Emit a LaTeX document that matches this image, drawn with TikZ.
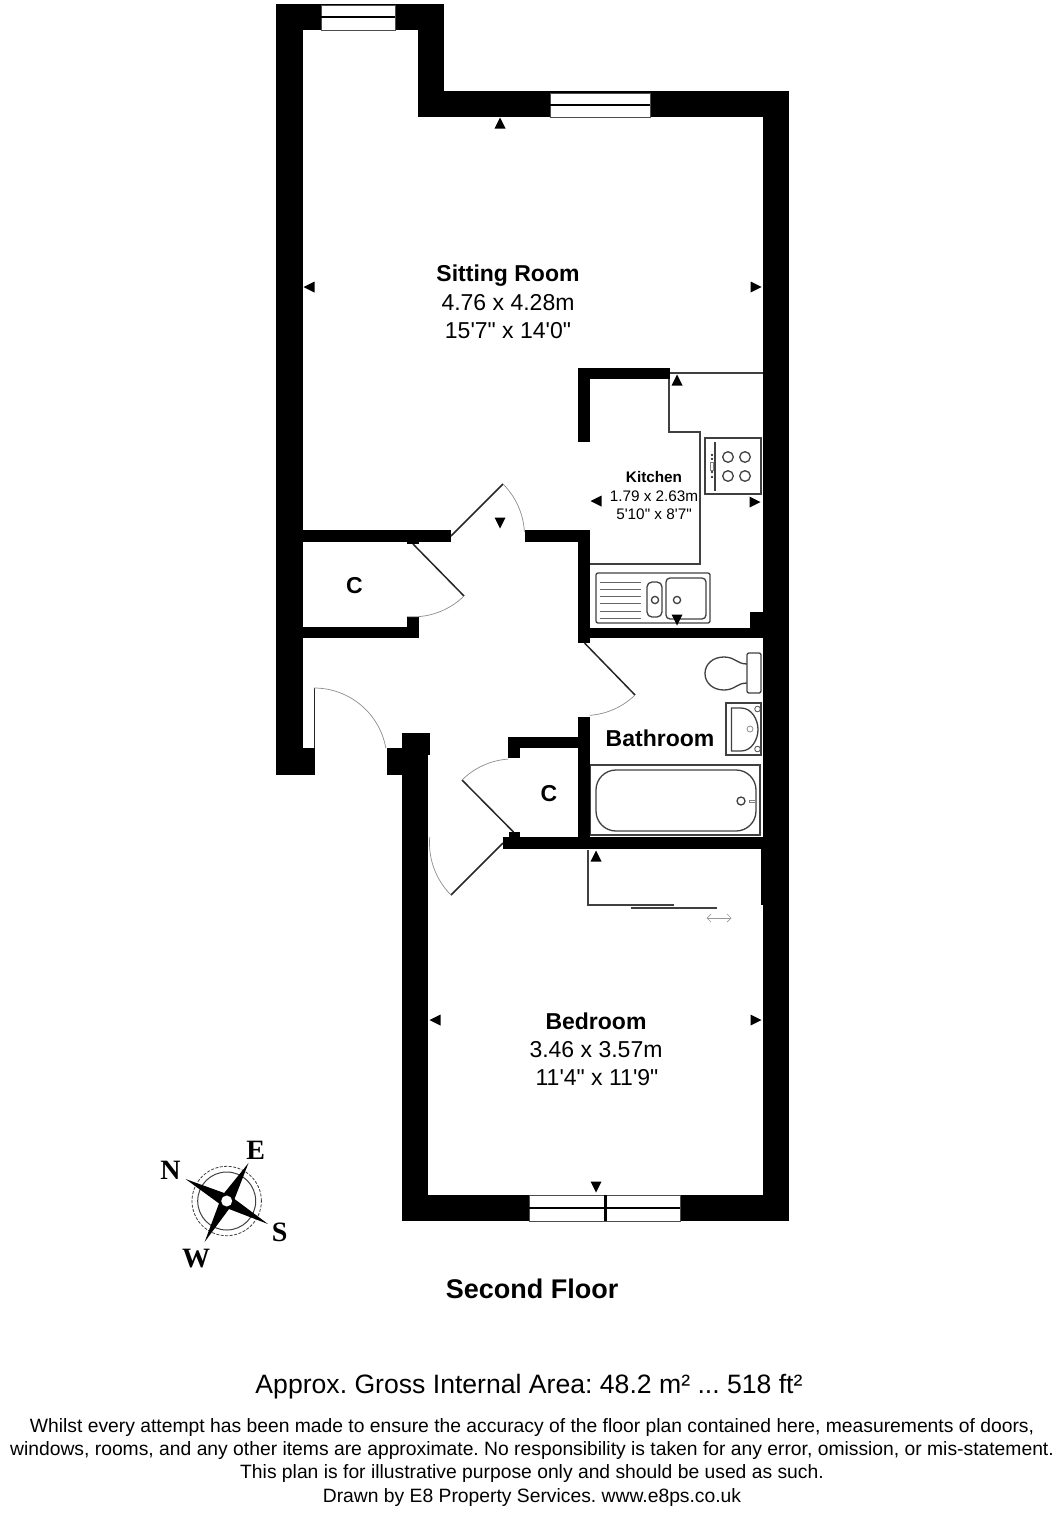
\documentclass[tikz,border=0pt]{standalone}
\usepackage{fontspec}
\newfontfamily\planfont{Liberation Sans}
\newfontfamily\compassfont{Liberation Serif}
\frenchspacing
\tikzset{
    wall/.style={fill=black},
    pane/.style={fill=white,draw=black!70,line width=0.6pt},
    leaf/.style={draw=black!85,line width=1.5pt},
    swing/.style={draw=black!45,line width=0.7pt},
    fitting/.style={draw=black!75,line width=1.3pt},
    roomtitle/.style={font=\planfont\bfseries\fontsize{23}{23}\selectfont,inner sep=0pt},
    roomsize/.style={font=\planfont\fontsize{23}{23}\selectfont,inner sep=0pt},
    kitchentitle/.style={font=\planfont\bfseries\fontsize{15.3}{15.3}\selectfont,inner sep=0pt},
    kitchensize/.style={font=\planfont\fontsize{15.3}{15.3}\selectfont,inner sep=0pt},
    finetext/.style={font=\planfont\fontsize{19.3}{19.3}\selectfont,inner sep=0pt},
    compassletter/.style={font=\compassfont\bfseries\fontsize{28}{28}\selectfont,inner sep=0pt},
}
\begin{document}
\begin{tikzpicture}[x=1pt,y=-1pt]
    \useasboundingbox (0,0) rectangle (1064,1528);

    % Walls
    \foreach \xa/\ya/\xb/\yb in {
        276/4/444/30, 276/4/303/775, 276/748/315/775, 418/4/444/117, 418/91/789/117,
        763/91/789/1221, 402/1195/789/1221, 402/733/428/1221, 404/733/430/755,
        387/748/404/775, 761/849/763/905,
        303/530/451/542, 407/542/419/544, 525/530/589.6/542,
        303/627/419/638, 407/617/419/627,
        578/368/670/379, 578/368/589.6/442, 578/530/589.6/643,
        589/628/763/638, 749.5/612/763/628,
        578/717/589.6/849, 508/737/578/748, 508/737/520/758,
        503/837/763/849, 508.5/832/519.6/837}
        \fill[wall] (\xa,\ya) rectangle (\xb,\yb);

    % Windows
    \foreach \xa/\ya/\xb/\ym/\yb in {321/5/395/17/30, 550/93/650/105/117, 529/1195/680/1208/1221} {
        \draw[pane] (\xa,\ya) rectangle (\xb,\yb);
        \draw[line width=1.2pt] (\xa,\ym) -- (\xb,\ym);
    }
    \draw[line width=3pt] (605,1195) -- (605,1221);

    % Doors
    \draw[leaf] (451,536) -- (503,484);
    \draw[swing] (503,484) arc[start angle=45,end angle=3,radius=73.5pt];
    \draw[leaf] (413,544) -- (464,596);
    \draw[swing] (464,596) arc[start angle=-45.6,end angle=-94.6,radius=73pt];
    \draw[leaf] (584.5,643) -- (635,695);
    \draw[swing] (635,695) arc[start angle=-45.8,end angle=-86,radius=72.5pt];
    \draw[leaf] (513.5,832) -- (462,780);
    \draw[swing] (462,780) arc[start angle=134.7,end angle=93.9,radius=73pt];
    \draw[leaf] (503,843) -- (451,895);
    \draw[swing] (451,895) arc[start angle=225,end angle=175.4,radius=73.5pt];
    \draw[leaf,line width=1pt] (314,688) -- (314,748);
    \draw[swing] (314,688) arc[start angle=90,end angle=10,radius=73pt];

    % Kitchen
    \draw[fitting] (670,373) -- (763,373);
    \draw[fitting] (669,379) -- (669,432) -- (700,432) -- (700,564) -- (589.6,564);
    \draw[fitting] (705,438) rectangle (761,494);
    \draw[fitting] (715,442) -- (715,491);
    \foreach \ydot in {455,459,472,477}
        \fill (712,\ydot) circle (1.2pt);
    \draw[black!50,line width=0.5pt] (710.5,462) rectangle (713.5,470);
    \foreach \xring in {728,745}
        \foreach \yring in {457,476}
            \draw[fitting] (\xring,\yring) circle (5.3pt);
    \draw[fitting,rounded corners=2pt] (596,573) rectangle (710,623);
    \draw[fitting,rounded corners=5pt] (647,582) rectangle (662,617);
    \draw[fitting,rounded corners=4pt] (666,578) rectangle (706,619);
    \foreach \xring in {655,677}
        \draw[fitting] (\xring,600) circle (3.6pt);
    \foreach \ydrain in {582,589,596,603,611,618}
        \draw[black!60,line width=0.8pt] (600,\ydrain) -- (641,\ydrain);

    % Bathroom
    \draw[fitting,rounded corners=2pt] (747,653) rectangle (761,693);
    \draw[fitting] (747,664) .. controls (737,664) and (735,657) .. (724,657)
        .. controls (713,657) and (705,664) .. (705,673.5)
        .. controls (705,683) and (713,690) .. (724,690)
        .. controls (735,690) and (737,683) .. (747,683);
    \draw[fitting] (726,703) rectangle (761,755);
    \draw[fitting] (731.5,708) -- (741,708) .. controls (752,708) and (758,720) .. (758,729.5)
        .. controls (758,739) and (752,751) .. (741,751) -- (731.5,751) -- cycle;
    \draw[black!70,line width=0.8pt] (757.5,709) circle (2.8pt);
    \draw[black!70,line width=0.8pt] (757.5,749) circle (2.8pt);
    \draw[black!45,line width=0.8pt] (750,729) circle (3pt);
    \draw[fitting] (590.6,765) rectangle (760,835);
    \draw[fitting,rounded corners=20pt] (596,770) rectangle (756,831);
    \draw[fitting] (741,801) circle (4pt);
    \draw[black!50,line width=0.5pt] (749.5,800) rectangle (756,802);

    % Bedroom
    \draw[fitting] (588,850) -- (588,905) -- (674,905);
    \draw[fitting] (631,908) -- (717,908);
    \draw[black!40,line width=0.7pt] (707,918) -- (731,918);
    \draw[black!40,line width=0.7pt] (711,914) -- (707,918) -- (711,922);
    \draw[black!40,line width=0.7pt] (727,914) -- (731,918) -- (727,922);

    % Height marks
    \foreach \xmark/\ymark/\turn in {500/123/0, 309/287/90, 756/287/270, 677/380/0, 596/501/90,
        755/502/270, 500/523/180, 677/620/180, 596/856/0, 435/1020/90, 756/1020/270, 596/1187/180}
        \fill[shift={(\xmark,\ymark)},rotate=\turn] (0,-5.5) -- (5.5,5.5) -- (-5.5,5.5) -- cycle;

    % Labels
    \node[roomtitle] (sittingtitle) at (508,276) {Sitting Room};
    \node[roomsize] (sittingmetric) at (508,303) {4.76 x 4.28m};
    \node[roomsize] (sittingimperial) at (508,331) {15'7" x 14'0"};
    \node[kitchentitle] (kitchentitle) at (654,477) {Kitchen};
    \node[kitchensize] (kitchenmetric) at (654,496) {1.79 x 2.63m};
    \node[kitchensize] (kitchenimperial) at (654,514) {5'10" x 8'7"};
    \node[roomtitle] (cupboardtop) at (354.5,586) {C};
    \node[roomtitle] (cupboardlow) at (549,794) {C};
    \node[roomtitle] (bathroom) at (660,738) {Bathroom};
    \node[roomtitle] (bedroomtitle) at (596,1021) {Bedroom};
    \node[roomsize] (bedroommetric) at (596,1050) {3.46 x 3.57m};
    \node[roomsize] (bedroomimperial) at (597,1078) {11'4" x 11'9"};

    % Compass
    \draw[black!75,line width=0.8pt,dashed,dash pattern=on 3pt off 1.5pt] (226.7,1201) circle (34.7pt);
    \draw[black!75,line width=1pt] (226.7,1201) circle (29pt);
    \fill (185.5,1179) -- (224.2,1193) -- (248.5,1163) -- (234.5,1199)
        -- (268,1224) -- (229,1209) -- (204.6,1242) -- (219,1203.4) -- cycle;
    \fill[white] (226.7,1201) circle (5.5pt);
    \node[compassletter] (north) at (170.6,1170) {N};
    \node[compassletter] (east) at (255.6,1150) {E};
    \node[compassletter] (south) at (279.7,1232) {S};
    \node[compassletter] (west) at (196,1259) {W};

    % Footer
    \node[font=\planfont\bfseries\fontsize{27}{27}\selectfont,inner sep=0pt] (floorname) at (532,1289) {Second Floor};
    \node[font=\planfont\fontsize{26.6}{26.6}\selectfont,inner sep=0pt] (grossarea) at (529,1387) {Approx. Gross Internal Area: 48.2 m² ... 518 ft²};
    \node[finetext] (noteone) at (532,1427) {Whilst every attempt has been made to ensure the accuracy of the floor plan contained here, measurements of doors,};
    \node[finetext] (notetwo) at (532,1450) {windows, rooms, and any other items are approximate. No responsibility is taken for any error, omission, or mis-statement.};
    \node[finetext] (notethree) at (532,1473) {This plan is for illustrative purpose only and should be used as such.};
    \node[finetext] (notefour) at (532,1497) {Drawn by E8 Property Services. www.e8ps.co.uk};
\end{tikzpicture}
\end{document}
